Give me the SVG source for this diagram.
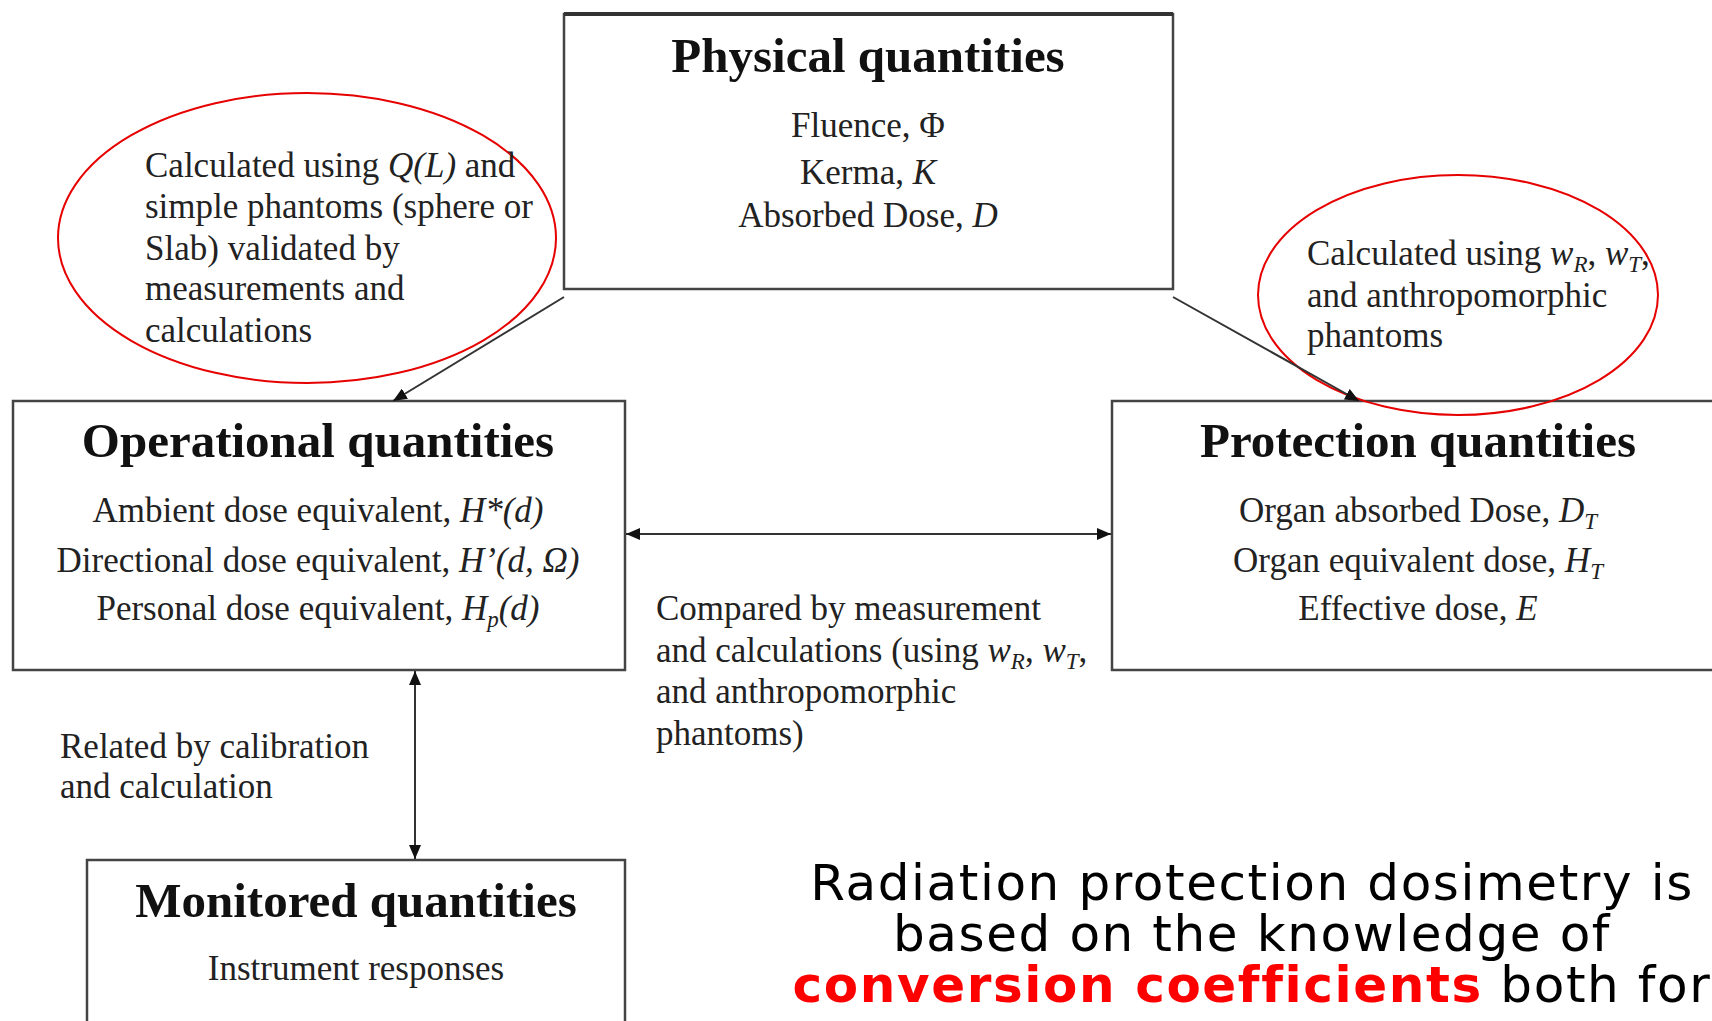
<svg xmlns="http://www.w3.org/2000/svg" width="1712" height="1021" viewBox="0 0 1712 1021">
<defs>
<style>
.box{fill:#fff;stroke:#444;stroke-width:2.5}
.title{font-family:"Liberation Serif","Times New Roman",serif;font-weight:bold;font-size:49px;fill:#111;text-anchor:middle}
.body{font-family:"Liberation Serif","Times New Roman",serif;font-size:35px;fill:#222}
.mid{text-anchor:middle}
.it{font-style:italic}
.sub{font-style:italic;font-size:23px}
.oval{fill:none;stroke:#e60000;stroke-width:2}
.conn{stroke:#333;stroke-width:2;fill:none}
.cap{font-family:"DejaVu Sans",Verdana,sans-serif;font-size:50px;letter-spacing:1.6px;fill:#000;text-anchor:middle}
.red{fill:#ff0000;font-weight:bold}
</style>
<marker id="ah" viewBox="0 0 14 12" refX="14" refY="6" markerWidth="14" markerHeight="12" markerUnits="userSpaceOnUse" orient="auto-start-reverse">
<path d="M0,0 L14,6 L0,12 Z" fill="#111"/>
</marker>
</defs>
<rect width="1712" height="1021" fill="#fff"/>

<g id="physical">
<rect class="box" x="564" y="14" width="609" height="275"/>
<line x1="564" y1="14" x2="1173" y2="14" stroke="#333" stroke-width="4"/>
<text class="title" x="868" y="72">Physical quantities</text>
<text class="body mid" x="868" y="137">Fluence, Φ</text>
<text class="body mid" x="868" y="184">Kerma, <tspan class="it">K</tspan></text>
<text class="body mid" x="868" y="227">Absorbed Dose, <tspan class="it">D</tspan></text>
</g>

<g id="operational">
<rect class="box" x="13" y="401" width="612" height="269"/>
<text class="title" x="318" y="457">Operational quantities</text>
<text class="body mid" x="318" y="522">Ambient dose equivalent, <tspan class="it">H*(d)</tspan></text>
<text class="body mid" x="318" y="572">Directional dose equivalent, <tspan class="it">H’(d, Ω)</tspan></text>
<text class="body mid" x="318" y="620">Personal dose equivalent, <tspan class="it">H</tspan><tspan class="sub" dy="7">p</tspan><tspan class="it" dy="-7">(d)</tspan></text>
</g>

<g id="protection">
<rect class="box" x="1112" y="401" width="640" height="269"/>
<text class="title" x="1418" y="457">Protection quantities</text>
<text class="body mid" x="1418" y="522">Organ absorbed Dose, <tspan class="it">D</tspan><tspan class="sub" dy="7">T</tspan></text>
<text class="body mid" x="1418" y="572">Organ equivalent dose, <tspan class="it">H</tspan><tspan class="sub" dy="7">T</tspan></text>
<text class="body mid" x="1418" y="620">Effective dose, <tspan class="it">E</tspan></text>
</g>

<g id="monitored">
<rect class="box" x="87" y="860" width="538" height="220"/>
<text class="title" x="356" y="917">Monitored quantities</text>
<text class="body mid" x="356" y="980">Instrument responses</text>
</g>

<g id="note-left">
<ellipse class="oval" cx="307" cy="238" rx="249" ry="145"/>
<text class="body" x="145" y="177">Calculated using <tspan class="it">Q(L)</tspan> and</text>
<text class="body" x="145" y="218">simple phantoms (sphere or</text>
<text class="body" x="145" y="260">Slab) validated by</text>
<text class="body" x="145" y="300">measurements and</text>
<text class="body" x="145" y="342">calculations</text>
</g>

<g id="note-right">
<ellipse class="oval" cx="1458" cy="295" rx="200" ry="120"/>
<text class="body" x="1307" y="265">Calculated using <tspan class="it">w</tspan><tspan class="sub" dy="7">R</tspan><tspan dy="-7">, </tspan><tspan class="it">w</tspan><tspan class="sub" dy="7">T</tspan><tspan dy="-7">,</tspan></text>
<text class="body" x="1307" y="307">and anthropomorphic</text>
<text class="body" x="1307" y="347">phantoms</text>
</g>

<g id="label-compared">
<text class="body" x="656" y="620">Compared by measurement</text>
<text class="body" x="656" y="662">and calculations (using <tspan class="it">w</tspan><tspan class="sub" dy="7">R</tspan><tspan dy="-7">, </tspan><tspan class="it">w</tspan><tspan class="sub" dy="7">T</tspan><tspan dy="-7">,</tspan></text>
<text class="body" x="656" y="703">and anthropomorphic</text>
<text class="body" x="656" y="745">phantoms)</text>
</g>

<g id="label-related">
<text class="body" x="60" y="758">Related by calibration</text>
<text class="body" x="60" y="798">and calculation</text>
</g>

<g id="connectors">
<line class="conn" x1="564" y1="297" x2="393" y2="401" marker-end="url(#ah)"/>
<line class="conn" x1="1173" y1="297" x2="1359" y2="401" marker-end="url(#ah)"/>
<line class="conn" x1="626" y1="534" x2="1111" y2="534" marker-start="url(#ah)" marker-end="url(#ah)"/>
<line class="conn" x1="415" y1="671" x2="415" y2="859" marker-start="url(#ah)" marker-end="url(#ah)"/>
</g>

<g id="caption">
<text class="cap" x="1252" y="900">Radiation protection dosimetry is</text>
<text class="cap" x="1252" y="951">based on the knowledge of</text>
<text class="cap" x="1252" y="1002"><tspan class="red">conversion coefficients</tspan> both for</text>
</g>
</svg>
